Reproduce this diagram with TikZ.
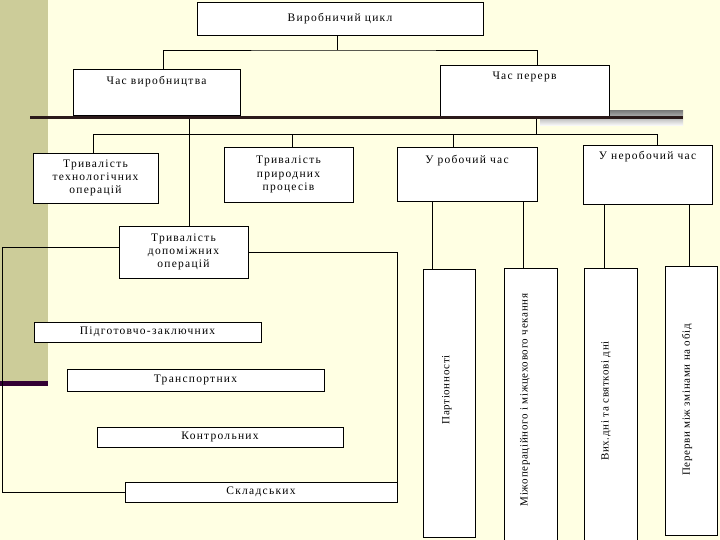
\documentclass[tikz,border=0pt]{standalone}
\usepackage{fontspec}
\setmainfont{Liberation Serif}
\newfontfamily\widefont[LetterSpace=11]{Liberation Serif}
\newfontfamily\narrowfont[LetterSpace=6]{Liberation Serif}
\usetikzlibrary{calc}
\definecolor{cream}{HTML}{FFFFE3}
\definecolor{olive}{HTML}{CCCC99}
\definecolor{plum}{HTML}{330033}
\definecolor{barline}{HTML}{2B1A1A}
\definecolor{shade}{HTML}{A29DAA}
\begin{document}
\begin{tikzpicture}[x=1pt,y=-1pt,
  box/.style={draw=black,fill=white,line width=0.9pt,inner sep=0pt,align=center,
    font=\widefont\fontsize{11.5}{13.3}\selectfont},
  toplbl/.style={anchor=north,inner sep=0pt,font=\widefont\fontsize{11.5}{13}\selectfont},
  vtext/.style={rotate=90,inner sep=0pt,font=\narrowfont\fontsize{11}{12}\selectfont},
  conn/.style={draw=black,line width=0.8pt}]
% background
\fill[cream] (0,0) rectangle (720,540);
\useasboundingbox (0,0) rectangle (720,540);
\fill[olive] (0,0) rectangle (48,381);
\fill[plum] (0,381) rectangle (48,385.5);
\fill[shade] (540,111) rectangle (683,126);

% top level
\node[box,minimum width=286,minimum height=33] (top) at (340,18.5) {Виробничий цикл};
\node[box,minimum width=167,minimum height=46,
  label={[toplbl,yshift=-8pt]north:Час виробництва}] (cv) at (156.5,92) {};
\node[box,minimum width=169,minimum height=51,
  label={[toplbl,yshift=-7pt]north:Час перерв}] (cp) at (524.5,90.5) {};

% second level
\node[box,minimum width=125,minimum height=50] (tech) at (95.5,178) {Тривалість\\технологічних\\операцій};
\node[box,minimum width=129,minimum height=55] (nat) at (288.5,174.5) {Тривалість\\природних\\процесів};
\node[box,minimum width=140,minimum height=54,
  label={[toplbl,yshift=-9pt]north:У робочий час}] (wk) at (467,174) {};
\node[box,minimum width=129,minimum height=59,
  label={[toplbl,yshift=-7pt]north:У неробочий час}] (nwk) at (647.5,174.5) {};
\node[box,minimum width=129,minimum height=52] (dop) at (183.5,252) {Тривалість\\допоміжних\\операцій};

% auxiliary operations
\node[box,minimum width=227,minimum height=20] (pz) at (147.5,332) {Підготовчо-заключних};
\node[box,minimum width=257,minimum height=22] (tr) at (195.5,380) {Транспортних};
\node[box,minimum width=246,minimum height=20] (ko) at (220,437) {Контрольних};
\node[box,minimum width=272,minimum height=20] (sk) at (261,492) {Складських};

% vertical boxes
\node[box,minimum width=52,minimum height=268] (b1) at (449,403) {};
\node[box,minimum width=53,minimum height=274] (b2) at (530.5,405) {};
\node[box,minimum width=53,minimum height=274] (b3) at (610.5,405) {};
\node[box,minimum width=52,minimum height=269] (b4) at (691,400.5) {};
\node[vtext] (t1) at (447,390) {Партіонності};
\node[vtext] (t2) at (525,400) {Міжопераційного і міжцехового чекання};
\node[vtext] (t3) at (606,401) {Вих.дні та святкові дні};
\node[vtext] (t4) at (687,400) {Перерви між змінами на обід};

% coordinates for buses
\coordinate (j1) at (337,50);
\coordinate (busL) at (93,134);
\coordinate (busR) at (657,134);
\coordinate (leftc) at (2,492);

% connectors
\draw[conn] ([xshift=-3pt]top.south) -- (j1);
\draw[conn] ([xshift=6.5pt]cv.north) |- (j1) -| ([xshift=12.5pt]cp.north);
\draw[conn] ([xshift=11.5pt]cp.south) -- ([xshift=11.5pt]cp.south |- busL);
\draw[conn] (busL) -- (busR);
\draw[conn] (tech.north -| busL) -- (busL);
\draw[conn] ([xshift=3.5pt]nat.north) -- ([xshift=3.5pt]nat.north |- busL);
\draw[conn] ([xshift=-14pt]wk.north) -- ([xshift=-14pt]wk.north |- busL);
\draw[conn] (nwk.north -| busR) -- (busR);
\draw[conn] ([xshift=32.5pt]cv.south) -- ([xshift=32.5pt]cv.south |- dop.north);
\draw[conn] ([yshift=5pt]dop.west) -| (leftc) -- (sk.west);
\draw[conn] (dop.east) -| (sk.east);
\draw[conn] ([xshift=-17pt]b1.north) -- ([xshift=-17pt]b1.north |- wk.south);
\draw[conn] ([xshift=-7pt]b2.north) -- ([xshift=-7pt]b2.north |- wk.south);
\draw[conn] ([xshift=-6.5pt]b3.north) -- ([xshift=-6.5pt]b3.north |- nwk.south);
\draw[conn] ([xshift=-2pt]b4.north) -- ([xshift=-2pt]b4.north |- nwk.south);

% thick rule
\coordinate (tl) at (30,117.5);
\coordinate (tr2) at (683,117.5);
\draw[barline,line width=2.6pt] (tl) -- (tr2);
\end{tikzpicture}
\end{document}
